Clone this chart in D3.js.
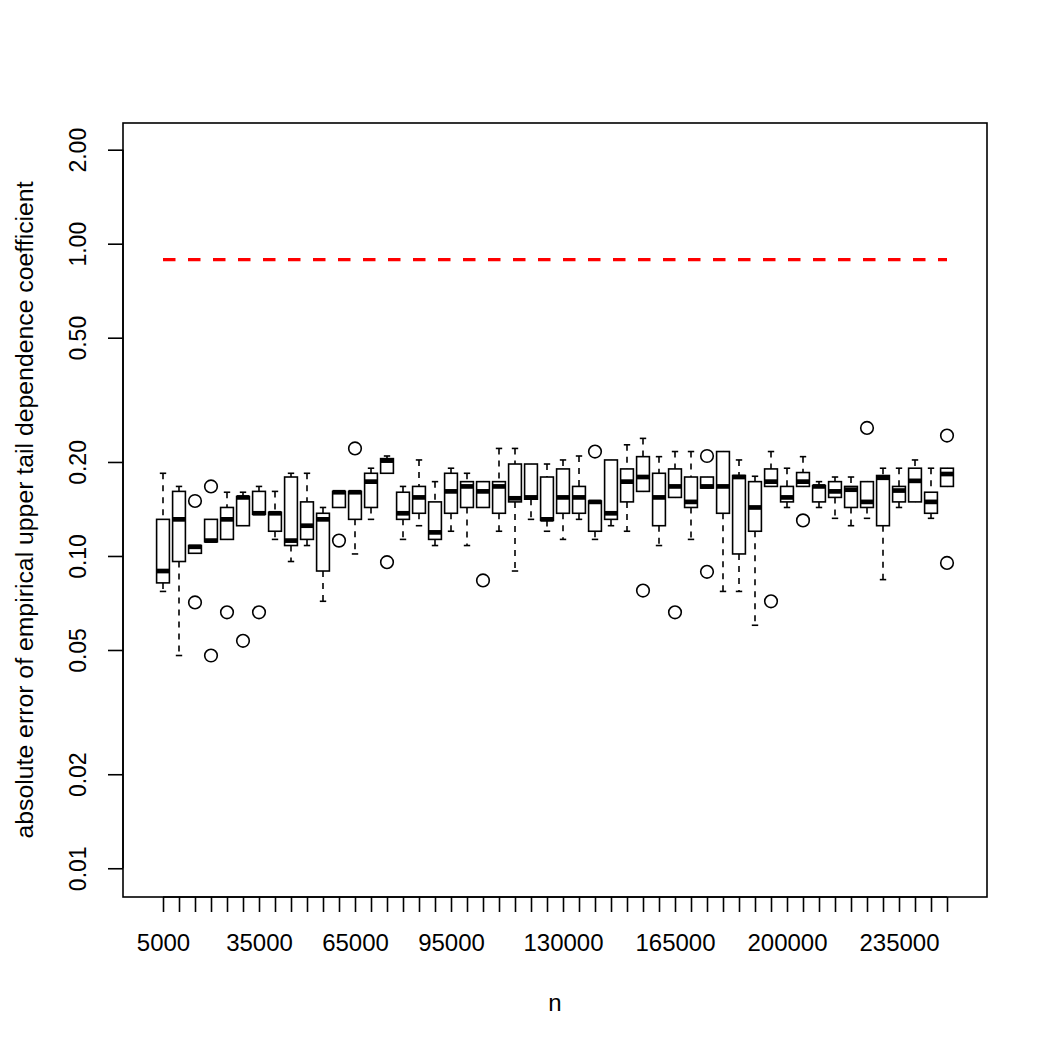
<!DOCTYPE html>
<html>
<head>
<meta charset="utf-8">
<script src="https://cdn.jsdelivr.net/npm/d3@7"></script>
<style>
  body { margin: 0; background: #ffffff; }
  svg { display: block; font-family: "Liberation Sans", Arial, sans-serif; }
</style>
</head>
<body>
<div id="chart"></div>
<script>
// sample sizes (one box per n)
const nValues = [5000, 10000, 15000, 20000, 25000, 30000, 35000, 40000, 45000, 50000,
                 55000, 60000, 65000, 70000, 75000, 80000, 85000, 90000, 95000, 100000,
                 105000, 110000, 115000, 120000, 125000, 130000, 135000, 140000, 145000, 150000,
                 155000, 160000, 165000, 170000, 175000, 180000, 185000, 190000, 195000, 200000,
                 205000, 210000, 215000, 220000, 225000, 230000, 235000, 240000, 245000, 250000];

// labels R managed to fit on the x axis
const shownLabels = [5000, 35000, 65000, 95000, 130000, 165000, 200000, 235000];

const yTicks = [0.01, 0.02, 0.05, 0.10, 0.20, 0.50, 1.00, 2.00];

// box statistics
const lowerWhisker = [0.077, 0.048, 0.102, 0.111, 0.113, 0.125, 0.136, 0.113, 0.096, 0.108,
                      0.0716, 0.143, 0.1015, 0.131, 0.184, 0.113, 0.125, 0.108, 0.120, 0.108,
                      0.143, 0.120, 0.0895, 0.131, 0.120, 0.113, 0.131, 0.113, 0.125, 0.120,
                      0.161, 0.108, 0.154, 0.113, 0.165, 0.077, 0.077, 0.060, 0.167, 0.143,
                      0.167, 0.143, 0.132, 0.125, 0.132, 0.084, 0.143, 0.149, 0.132, 0.167];
const lowerQuartile = [0.082, 0.096, 0.102, 0.111, 0.113, 0.125, 0.136, 0.120, 0.108, 0.113,
                       0.0895, 0.143, 0.131, 0.143, 0.184, 0.131, 0.137, 0.113, 0.137, 0.143,
                       0.143, 0.137, 0.149, 0.152, 0.130, 0.137, 0.137, 0.120, 0.131, 0.149,
                       0.161, 0.125, 0.154, 0.143, 0.165, 0.137, 0.1015, 0.120, 0.167, 0.149,
                       0.167, 0.149, 0.154, 0.143, 0.143, 0.125, 0.149, 0.149, 0.137, 0.167];
const medians = [0.0895, 0.131, 0.107, 0.112, 0.131, 0.154, 0.137, 0.137, 0.112, 0.125,
                 0.131, 0.160, 0.160, 0.173, 0.202, 0.137, 0.154, 0.119, 0.161, 0.167,
                 0.161, 0.167, 0.153, 0.154, 0.131, 0.154, 0.154, 0.149, 0.137, 0.173,
                 0.179, 0.154, 0.167, 0.149, 0.167, 0.167, 0.179, 0.143, 0.173, 0.154,
                 0.173, 0.167, 0.161, 0.163, 0.149, 0.178, 0.162, 0.174, 0.149, 0.183];
const upperQuartile = [0.131, 0.161, 0.108, 0.131, 0.143, 0.155, 0.161, 0.138, 0.179, 0.149,
                       0.137, 0.161, 0.161, 0.184, 0.205, 0.160, 0.167, 0.149, 0.184, 0.173,
                       0.173, 0.173, 0.197, 0.197, 0.179, 0.190, 0.167, 0.150, 0.203, 0.190,
                       0.208, 0.184, 0.190, 0.179, 0.179, 0.216, 0.181, 0.173, 0.190, 0.167,
                       0.185, 0.168, 0.173, 0.167, 0.173, 0.181, 0.167, 0.191, 0.160, 0.191];
const upperWhisker = [0.184, 0.167, 0.108, 0.131, 0.160, 0.160, 0.167, 0.161, 0.184, 0.184,
                      0.143, 0.161, 0.161, 0.191, 0.209, 0.167, 0.203, 0.173, 0.191, 0.184,
                      0.173, 0.221, 0.221, 0.197, 0.197, 0.203, 0.209, 0.150, 0.203, 0.227,
                      0.238, 0.208, 0.216, 0.216, 0.179, 0.216, 0.203, 0.180, 0.216, 0.191,
                      0.208, 0.173, 0.179, 0.179, 0.173, 0.191, 0.191, 0.203, 0.191, 0.191];
const outliers = [[], [], [0.150, 0.071], [0.167, 0.048], [0.066], [0.0535], [0.066], [], [], [],
                  [], [0.112], [0.221], [], [0.0955], [], [], [], [], [],
                  [0.0835], [], [], [], [], [], [], [0.216], [], [],
                  [0.0775], [], [0.066], [], [0.209, 0.089], [], [], [], [0.0716], [],
                  [0.130], [], [], [], [0.257], [], [], [], [], [0.243, 0.095]];

// red reference level
const referenceLevel = 0.889;

const WIDTH = 1050, HEIGHT = 1050;
const LEFT = 123, RIGHT = 987, TOP = 123, BOTTOM = 897;
const LW = 1.6;

const svg = d3.select("#chart").append("svg")
              .attr("width", WIDTH)
              .attr("height", HEIGHT);

svg.append("rect").attr("width", WIDTH).attr("height", HEIGHT).attr("fill", "#fff");

// R style: positions 1..k, xlim (0.5, k+0.5) widened by 4%
const xScale = d3.scaleLinear()
                 .domain([-1.5, nValues.length + 2.5])
                 .range([LEFT, RIGHT]);

const yScale = d3.scaleLog()
                 .domain([0.00809, 2.435])
                 .range([BOTTOM, TOP]);

const boxHalf = (xScale(2) - xScale(1)) * 0.4;
const stapleHalf = boxHalf * 0.5;

// reference line
svg.append("line")
   .attr("x1", xScale(1)).attr("x2", xScale(nValues.length))
   .attr("y1", yScale(referenceLevel)).attr("y2", yScale(referenceLevel))
   .attr("stroke", "#ff0000")
   .attr("stroke-width", 3.2)
   .attr("stroke-dasharray", "12.5,12.5");

const boxes = nValues.map((n, i) => ({
    pos: i + 1,
    lw: lowerWhisker[i], q1: lowerQuartile[i], med: medians[i],
    q3: upperQuartile[i], uw: upperWhisker[i], out: outliers[i]
}));

const g = svg.append("g").selectAll("g.box")
             .data(boxes)
             .enter()
             .append("g")
             .attr("class", "box");

// whiskers (dashed)
g.append("line")
 .attr("x1", d => xScale(d.pos)).attr("x2", d => xScale(d.pos))
 .attr("y1", d => yScale(d.uw)).attr("y2", d => yScale(d.q3))
 .attr("stroke", "#000").attr("stroke-width", LW).attr("stroke-dasharray", "6,6");
g.append("line")
 .attr("x1", d => xScale(d.pos)).attr("x2", d => xScale(d.pos))
 .attr("y1", d => yScale(d.q1)).attr("y2", d => yScale(d.lw))
 .attr("stroke", "#000").attr("stroke-width", LW).attr("stroke-dasharray", "6,6");

// staples
g.filter(d => d.uw > d.q3).append("line")
 .attr("x1", d => xScale(d.pos) - stapleHalf).attr("x2", d => xScale(d.pos) + stapleHalf)
 .attr("y1", d => yScale(d.uw)).attr("y2", d => yScale(d.uw))
 .attr("stroke", "#000").attr("stroke-width", LW);
g.filter(d => d.lw < d.q1).append("line")
 .attr("x1", d => xScale(d.pos) - stapleHalf).attr("x2", d => xScale(d.pos) + stapleHalf)
 .attr("y1", d => yScale(d.lw)).attr("y2", d => yScale(d.lw))
 .attr("stroke", "#000").attr("stroke-width", LW);

// boxes
g.append("rect")
 .attr("x", d => xScale(d.pos) - boxHalf)
 .attr("width", boxHalf * 2)
 .attr("y", d => yScale(d.q3))
 .attr("height", d => yScale(d.q1) - yScale(d.q3))
 .attr("fill", "#fff")
 .attr("stroke", "#000")
 .attr("stroke-width", LW);

// medians
g.append("line")
 .attr("x1", d => xScale(d.pos) - boxHalf).attr("x2", d => xScale(d.pos) + boxHalf)
 .attr("y1", d => yScale(d.med)).attr("y2", d => yScale(d.med))
 .attr("stroke", "#000").attr("stroke-width", 4.7);

// outliers
g.selectAll("circle")
 .data(d => d.out.map(v => ({ pos: d.pos, v: v })))
 .enter()
 .append("circle")
 .attr("cx", d => xScale(d.pos))
 .attr("cy", d => yScale(d.v))
 .attr("r", 6.3)
 .attr("fill", "none")
 .attr("stroke", "#000")
 .attr("stroke-width", LW);

// frame
svg.append("rect")
   .attr("x", LEFT).attr("y", TOP)
   .attr("width", RIGHT - LEFT).attr("height", BOTTOM - TOP)
   .attr("fill", "none").attr("stroke", "#000").attr("stroke-width", LW);

// x axis
const xAxis = d3.axisBottom(xScale)
                .tickValues(boxes.map(d => d.pos))
                .tickSize(15)
                .tickPadding(22)
                .tickFormat(p => shownLabels.includes(nValues[p - 1]) ? String(nValues[p - 1]) : "");
const xg = svg.append("g")
              .attr("transform", "translate(0," + BOTTOM + ")")
              .call(xAxis);
xg.select(".domain").remove();
xg.selectAll(".tick line").attr("stroke", "#000").attr("stroke-width", LW);
xg.selectAll(".tick text")
  .attr("fill", "#000")
  .style("font-size", "24px")
  .style("font-family", "'Liberation Sans', Arial, sans-serif");
xg.append("line")
  .attr("x1", xScale(1)).attr("x2", xScale(nValues.length))
  .attr("stroke", "#000").attr("stroke-width", LW);

// y axis
const yAxis = d3.axisLeft(yScale)
                .tickValues(yTicks)
                .tickSize(15)
                .tickFormat(d3.format(".2f"));
const yg = svg.append("g")
              .attr("transform", "translate(" + LEFT + ",0)")
              .call(yAxis);
yg.select(".domain").remove();
yg.selectAll(".tick line").attr("stroke", "#000").attr("stroke-width", LW);
yg.selectAll(".tick text")
  .attr("x", 0)
  .attr("dy", 0)
  .attr("fill", "#000")
  .attr("text-anchor", "middle")
  .attr("transform", "translate(-37,0) rotate(-90)")
  .style("font-size", "23px")
  .style("font-family", "'Liberation Sans', Arial, sans-serif");
yg.append("line")
  .attr("y1", yScale(yTicks[0])).attr("y2", yScale(yTicks[yTicks.length - 1]))
  .attr("stroke", "#000").attr("stroke-width", LW);

// axis titles
svg.append("text")
   .attr("x", (LEFT + RIGHT) / 2)
   .attr("y", 1011)
   .attr("text-anchor", "middle")
   .style("font-size", "24px")
   .text("n");

svg.append("text")
   .attr("transform", "translate(33," + (TOP + BOTTOM) / 2 + ") rotate(-90)")
   .attr("text-anchor", "middle")
   .style("font-size", "24.8px")
   .text("absolute error of empirical upper tail dependence coefficient");
</script>
</body>
</html>
